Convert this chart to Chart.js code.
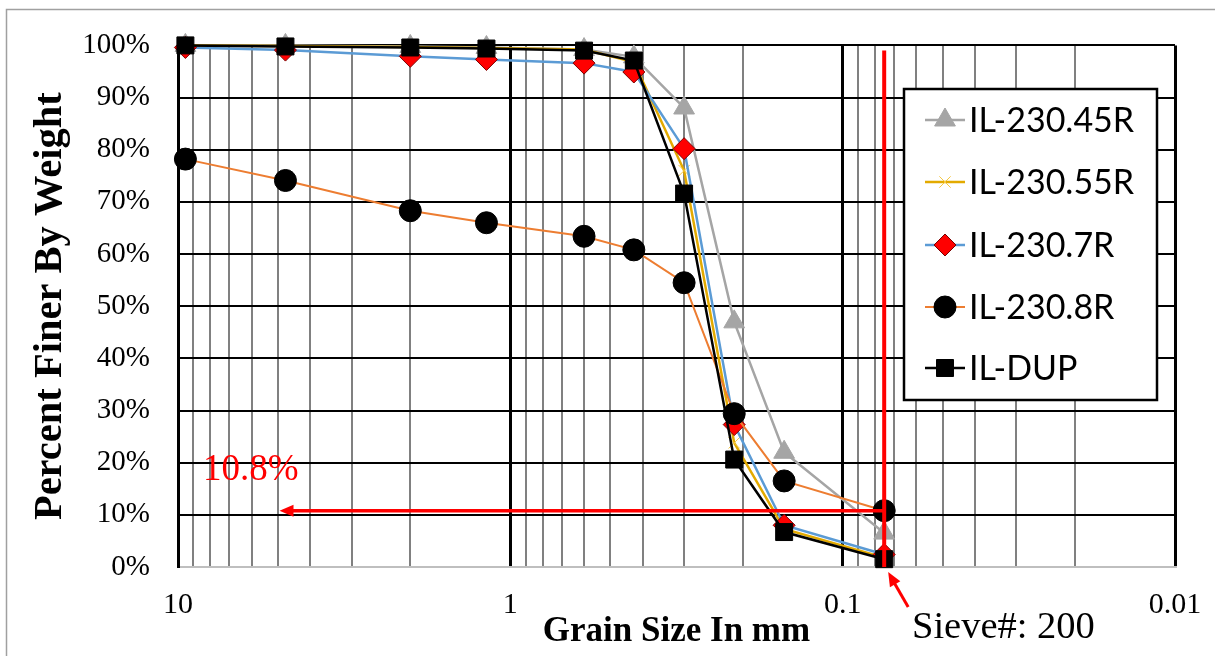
<!DOCTYPE html>
<html><head><meta charset="utf-8">
<script src="https://cdn.jsdelivr.net/npm/chart.js@4/dist/chart.umd.min.js"></script>
<style>html,body{margin:0;padding:0;background:#fff}canvas{display:block}</style>
</head><body>
<canvas id="c" width="1215" height="656"></canvas>
<script>
// ---- data ----
const grainSizes = [9.5, 4.75, 2.0, 1.18, 0.6, 0.425, 0.3, 0.212, 0.15, 0.075];
const il23045R = [100, 100, 99.8, 99.6, 99.2, 97.8, 88.0, 47.0, 22.0, 6.5];
const il23055R = [100, 99.9, 99.7, 99.5, 99.2, 96.8, 76.0, 23.8, 7.3, 1.8];
const il2307R  = [99.6, 99.1, 97.9, 97.3, 96.6, 94.9, 80.2, 27.3, 8.0, 2.4];
const il2308R  = [78.2, 74.1, 68.3, 66.0, 63.4, 60.8, 54.5, 29.4, 16.5, 10.8];
const ilDUP    = [100, 99.8, 99.6, 99.4, 99.0, 97.1, 71.6, 20.6, 6.7, 1.5];
const seriesNames = ['IL-230.45R', 'IL-230.55R', 'IL-230.7R', 'IL-230.8R', 'IL-DUP'];
const xDecades = [10, 1, 0.1, 0.01];
const xTickLabels = ['10', '1', '0.1', '0.01'];
const yTickValues = [0, 10, 20, 30, 40, 50, 60, 70, 80, 90, 100];
const cutoffSize = 0.075;      // sieve #200
const cutoffPercent = 10.8;
const arrowToSize = 4.95;
const cutoffLabel = '10.8%';
const sieveLabel = 'Sieve#: 200';

// ---- styles ----
const styles = [
  {line: '#a5a5a5', pointStyle: 'triangle', radius: 12, fill: '#a5a5a5', stroke: '#a5a5a5', bw: 1, lw: 2.5},
  {line: '#e3aa00', pointStyle: 'crossRot', radius: 8, fill: '#ffc000', stroke: '#f5c842', bw: 1, lw: 2.5},
  {line: '#5b9bd5', pointStyle: 'rectRot', radius: 11, fill: '#ff0000', stroke: '#7a0000', bw: 1, lw: 2.5},
  {line: '#ed7d31', pointStyle: 'circle', radius: 11, fill: '#000000', stroke: '#000000', bw: 1, lw: 2},
  {line: '#000000', pointStyle: 'rect', radius: 12, fill: '#000000', stroke: '#000000', bw: 1, lw: 2.5}
];
const seriesValues = [il23045R, il23055R, il2307R, il2308R, ilDUP];

const datasets = seriesValues.map((vals, i) => ({
  label: seriesNames[i],
  data: grainSizes.map((g, j) => ({x: g, y: vals[j]})),
  borderColor: styles[i].line,
  backgroundColor: styles[i].fill,
  borderWidth: styles[i].lw,
  pointStyle: styles[i].pointStyle,
  pointRadius: styles[i].radius,
  pointHoverRadius: styles[i].radius,
  pointBackgroundColor: styles[i].fill,
  pointBorderColor: styles[i].stroke,
  pointBorderWidth: styles[i].bw,
  tension: 0,
  clip: false,
  order: seriesNames.length - 1 - i
}));

const isDecade = v => Math.abs(Math.log10(v) - Math.round(Math.log10(v))) < 1e-6;
const SERIF = "'Liberation Serif', 'Times New Roman', serif";

function arrowHead(ctx, tipX, tipY, fromX, fromY, len, half) {
  const a = Math.atan2(tipY - fromY, tipX - fromX);
  ctx.beginPath();
  ctx.moveTo(tipX, tipY);
  ctx.lineTo(tipX - len * Math.cos(a) + half * Math.sin(a), tipY - len * Math.sin(a) - half * Math.cos(a));
  ctx.lineTo(tipX - len * Math.cos(a) - half * Math.sin(a), tipY - len * Math.sin(a) + half * Math.cos(a));
  ctx.closePath();
  ctx.fill();
}

const annotationPlugin = {
  id: 'annot',
  afterDatasetsDraw(chart) {
    const {ctx, scales: {x, y}, chartArea} = chart;
    ctx.save();
    ctx.strokeStyle = '#ff0000';
    ctx.fillStyle = '#ff0000';
    ctx.lineWidth = 4;
    const vx = x.getPixelForValue(cutoffSize);
    ctx.beginPath();
    ctx.moveTo(vx, y.getPixelForValue(99));
    ctx.lineTo(vx, y.getPixelForValue(0));
    ctx.stroke();
    const hy = y.getPixelForValue(cutoffPercent);
    const tipX = x.getPixelForValue(arrowToSize);
    ctx.lineWidth = 3.5;
    ctx.beginPath();
    ctx.moveTo(vx, hy);
    ctx.lineTo(tipX + 12, hy);
    ctx.stroke();
    arrowHead(ctx, tipX, hy, vx, hy, 14, 6);
    ctx.font = '37px ' + SERIF;
    ctx.textAlign = 'left';
    ctx.textBaseline = 'alphabetic';
    ctx.fillText(cutoffLabel, chartArea.left + 25, y.getPixelForValue(16.6));
    ctx.restore();
  },
  afterDraw(chart) {
    const {ctx, scales: {x, y}} = chart;
    ctx.save();
    // outer frame
    ctx.strokeStyle = '#a0a0a0';
    ctx.lineWidth = 1.5;
    ctx.beginPath();
    ctx.moveTo(6.5, 656);
    ctx.lineTo(6.5, 9.5);
    ctx.lineTo(1215, 9.5);
    ctx.stroke();
    // sieve annotation
    const px = x.getPixelForValue(cutoffSize) + 4;
    const py = y.getPixelForValue(0) + 5;
    ctx.strokeStyle = '#ff0000';
    ctx.fillStyle = '#ff0000';
    ctx.lineWidth = 3;
    ctx.beginPath();
    ctx.moveTo(px + 20, py + 35);
    ctx.lineTo(px + 5, py + 9);
    ctx.stroke();
    arrowHead(ctx, px, py, px + 20, py + 35, 14, 6);
    ctx.fillStyle = '#000';
    ctx.font = '38.5px ' + SERIF;
    ctx.textAlign = 'left';
    ctx.textBaseline = 'alphabetic';
    ctx.fillText(sieveLabel, 912, 638);
    // legend
    const bx = 904, by = 89, bw = 253, bh = 311;
    ctx.fillStyle = '#fff';
    ctx.fillRect(bx, by, bw, bh);
    ctx.strokeStyle = '#000';
    ctx.lineWidth = 2.5;
    ctx.strokeRect(bx, by, bw, bh);
    const rows = [120, 182, 245, 307, 368];
    chart.data.datasets.forEach((ds, i) => {
      const yy = rows[i];
      const s = styles[i];
      ctx.strokeStyle = s.line;
      ctx.lineWidth = s.lw;
      ctx.beginPath();
      ctx.moveTo(925, yy);
      ctx.lineTo(965, yy);
      ctx.stroke();
      ctx.fillStyle = s.fill;
      ctx.strokeStyle = s.stroke;
      ctx.lineWidth = s.bw;
      Chart.helpers.drawPoint(ctx, {pointStyle: s.pointStyle, radius: s.radius, borderWidth: s.bw, rotation: 0}, 945, yy);
      ctx.fillStyle = '#000';
      ctx.font = "34px Lato, 'Liberation Sans', sans-serif";
      ctx.textAlign = 'left';
      ctx.textBaseline = 'middle';
      ctx.fillText(ds.label, 969, yy + 1);
    });
    ctx.restore();
  }
};

new Chart(document.getElementById('c'), {
  type: 'line',
  data: {datasets},
  plugins: [annotationPlugin],
  options: {
    responsive: false,
    animation: false,
    events: [],
    layout: {padding: {top: 43, right: 40, left: 0, bottom: 0}},
    plugins: {legend: {display: false}, tooltip: {enabled: false}},
    scales: {
      x: {
        type: 'logarithmic',
        reverse: true,
        min: 0.01,
        max: 10,
        afterFit: s => { s.height = 89; },
        afterBuildTicks: s => {
          const t = [];
          for (let k = -2; k <= 0; k++) {
            for (let m = 1; m <= 9; m++) t.push({value: Number((m * Math.pow(10, k)).toPrecision(6))});
          }
          t.push({value: 10});
          s.ticks = t;
        },
        grid: {
          drawTicks: false,
          color: c => (c.tick && isDecade(c.tick.value)) ? '#000000' : '#808080',
          lineWidth: c => (c.tick && isDecade(c.tick.value)) ? 3 : 2
        },
        border: {display: true, color: '#bfbfbf', width: 2},
        ticks: {
          autoSkip: false,
          maxRotation: 0,
          minRotation: 0,
          padding: 20,
          color: '#000',
          font: {family: SERIF, size: 30},
          callback: v => {
            const idx = xDecades.findIndex(d => Math.abs(d - v) < 1e-9);
            return idx >= 0 ? xTickLabels[idx] : '';
          }
        },
        title: {
          display: true,
          text: 'Grain Size In mm',
          color: '#000',
          font: {family: SERIF, size: 35, weight: 'bold'},
          padding: {top: 0, bottom: 3}
        }
      },
      y: {
        type: 'linear',
        min: 0,
        max: 100,
        afterFit: s => { s.width = 178; },
        afterBuildTicks: s => { s.ticks = yTickValues.map(v => ({value: v})); },
        grid: {
          drawTicks: false,
          color: c => (c.tick && c.tick.value === 0) ? '#bfbfbf' : '#000000',
          lineWidth: 2
        },
        border: {display: true, color: '#000', width: 3},
        ticks: {
          padding: 28,
          color: '#000',
          font: {family: SERIF, size: 29},
          callback: v => v + '%'
        },
        title: {
          display: true,
          text: 'Percent Finer By Weight',
          color: '#000',
          font: {family: SERIF, size: 40.5, weight: 'bold'},
          padding: {top: 26, bottom: 0}
        }
      }
    }
  }
});
</script>
</body></html>
